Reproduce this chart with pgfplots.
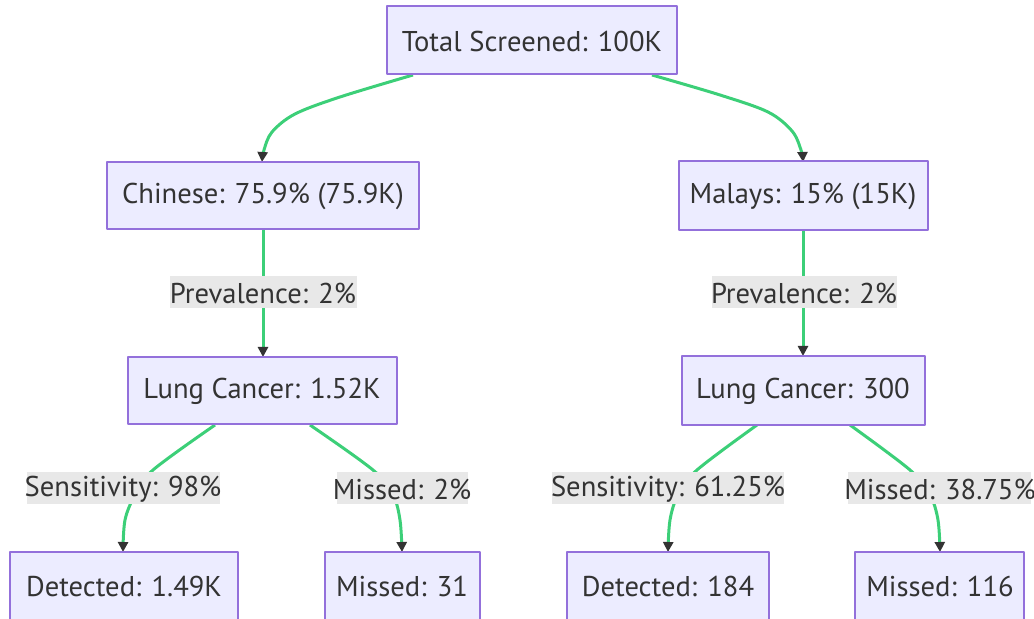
\documentclass[border=0pt]{standalone}
\usepackage{pgfplots}
\pgfplotsset{compat=1.18}
\usepackage{fontspec}
\setmainfont{PT Sans}
\usetikzlibrary{arrows.meta}
\definecolor{boxfill}{HTML}{ECECFF}
\definecolor{boxdraw}{HTML}{9370DB}
\definecolor{edge}{HTML}{3CCF78}
\definecolor{labbg}{HTML}{E8E8E8}
\definecolor{txt}{HTML}{333333}
\begin{document}
\begin{tikzpicture}
\begin{axis}[
  scale only axis, width=517pt, height=309.5pt,
  xmin=0, xmax=1034, ymin=0, ymax=619, y dir=reverse,
  hide axis, clip=true,
  every axis plot/.append style={line join=round},
]
% full frame (invisible) so the picture keeps the reference's extent
\addplot[draw=none, forget plot] coordinates {(0,0) (1034,619)};
% edges
\pgfplotsset{ed/.style={draw=edge, line width=1.5pt, smooth, tension=0.55,
  -{Triangle[width=5pt,length=5pt,color=txt,fill=txt]}}}
\addplot[ed] coordinates {(413,75) (340,97) (295,114) (272,132) (264,150) (262,162)};
\addplot[ed] coordinates {(652,75) (720,95) (768,112) (792,131) (801,150) (803,162)};
\addplot[ed, sharp plot] coordinates {(263,230) (263,357)};
\addplot[ed, sharp plot] coordinates {(803,230) (803,356)};
\addplot[ed] coordinates {(215,425) (153,470) (135,495) (125,520) (123,552)};
\addplot[ed] coordinates {(310,425) (373,470) (393,495) (400,520) (402,552)};
\addplot[ed] coordinates {(757,425) (697,470) (678,495) (670,520) (668,552)};
\addplot[ed] coordinates {(850,425) (910,470) (930,495) (938,520) (940,552)};
% edge label backgrounds
\pgfplotsset{lb/.style={fill=labbg, draw=none}}
\addplot[lb] coordinates {(170,276) (357,276) (357,308) (170,308)} --cycle;
\addplot[lb] coordinates {(712,276) (897,276) (897,308) (712,308)} --cycle;
\addplot[lb] coordinates {(27,472) (220,472) (220,504) (27,504)} --cycle;
\addplot[lb] coordinates {(337,472) (468,472) (468,504) (337,504)} --cycle;
\addplot[lb] coordinates {(552,472) (784,472) (784,504) (552,504)} --cycle;
\addplot[lb] coordinates {(848,472) (1031,472) (1031,504) (848,504)} --cycle;
% boxes
\pgfplotsset{bx/.style={fill=boxfill, draw=boxdraw, line width=0.8pt}}
\addplot[bx] coordinates {(387,6) (677,6) (677,74) (387,74)} --cycle;
\addplot[bx] coordinates {(107,162) (419,162) (419,229) (107,229)} --cycle;
\addplot[bx] coordinates {(679,161) (928,161) (928,230) (679,230)} --cycle;
\addplot[bx] coordinates {(128,357) (397,357) (397,424) (128,424)} --cycle;
\addplot[bx] coordinates {(682,356) (925,356) (925,425) (682,425)} --cycle;
\addplot[bx] coordinates {(10,552) (238,552) (238,640) (10,640)} --cycle;
\addplot[bx] coordinates {(325,552) (480,552) (480,640) (325,640)} --cycle;
\addplot[bx] coordinates {(567,552) (769,552) (769,640) (567,640)} --cycle;
\addplot[bx] coordinates {(855,552) (1024,552) (1024,640) (855,640)} --cycle;
% texts
\tikzset{t/.style={text=txt, font=\fontsize{14.3}{17}\selectfont, inner sep=0pt, anchor=center}}
\node[t] at (axis cs:532,41) {Total Screened: 100K};
\node[t] at (axis cs:263,196) {Chinese: 75.9\% (75.9K)};
\node[t] at (axis cs:803,196) {Malays: 15\% (15K)};
\node[t] at (axis cs:263,293) {Prevalence: 2\%};
\node[t] at (axis cs:804,293) {Prevalence: 2\%};
\node[t] at (axis cs:262,391) {Lung Cancer: 1.52K};
\node[t] at (axis cs:803,391) {Lung Cancer: 300};
\node[t] at (axis cs:123,489) {Sensitivity: 98\%};
\node[t] at (axis cs:402,489) {Missed: 2\%};
\node[t] at (axis cs:668,489) {Sensitivity: 61.25\%};
\node[t] at (axis cs:940,489) {Missed: 38.75\%};
\node[t] at (axis cs:124,586) {Detected: 1.49K};
\node[t] at (axis cs:402,586) {Missed: 31};
\node[t] at (axis cs:668,586) {Detected: 184};
\node[t] at (axis cs:940,586) {Missed: 116};
\end{axis}
\end{tikzpicture}
\end{document}
